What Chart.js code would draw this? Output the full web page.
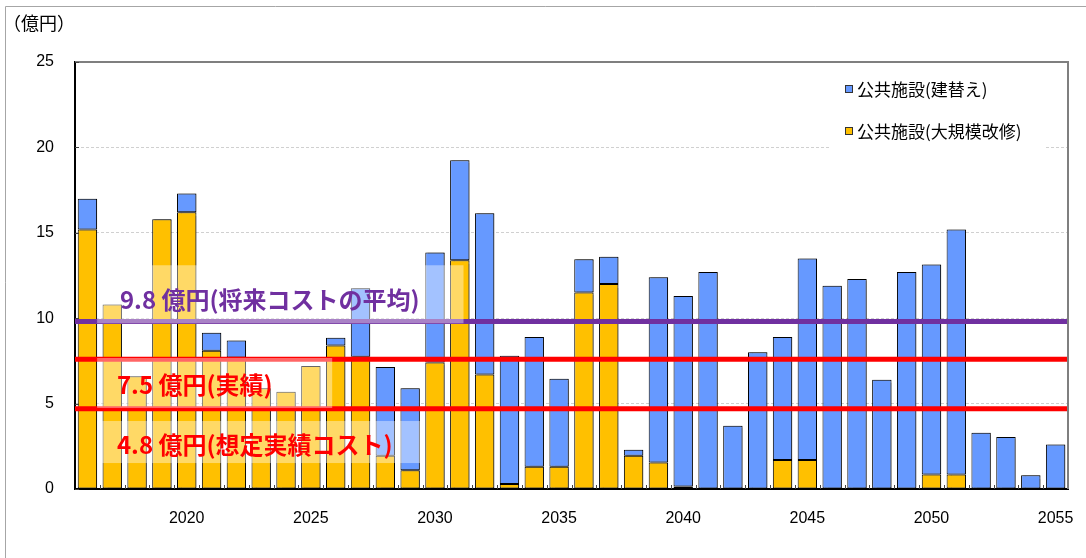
<!DOCTYPE html>
<html>
<head>
<meta charset="utf-8">
<script src="https://cdn.jsdelivr.net/npm/chart.js@4"></script>
<style>
  html, body { margin: 0; padding: 0; background: #fff; }
  #wrap { width: 1086px; height: 558px; }
</style>
</head>
<body>
<div id="wrap"><canvas id="costChart" width="1086" height="558"></canvas></div>
<script>
// years on the x axis
const years = [];
for (let y = 2016; y <= 2055; y++) years.push(y);

// 公共施設（大規模改修） - yellow, bottom of each stack
const renovation = [
  15.2, 10.8, 6.6, 15.8, 16.2, 8.1, 7.7, 5.9, 5.7, 7.2,
  8.4, 7.75, 1.95, 1.1, 7.4, 13.4, 6.7, 0.3, 1.3, 1.3,
  11.5, 12.0, 1.95, 1.55, 0.15, 0, 0, 0, 1.7, 1.7,
  0, 0, 0, 0, 0.85, 0.85, 0, 0, 0, 0
];
// 公共施設（建替え） - blue, top of each stack
const rebuild = [
  1.8, 0, 0, 0, 1.1, 1.05, 1.0, 0, 0, 0,
  0.45, 4.0, 5.2, 4.8, 6.45, 5.85, 9.45, 7.5, 7.6, 5.15,
  1.95, 1.6, 0.35, 10.85, 11.15, 12.7, 3.7, 8.0, 7.2, 11.8,
  11.9, 12.3, 6.4, 12.7, 12.3, 14.35, 3.3, 3.05, 0.8, 2.6
];

const futureAvg = 9.8;     // 将来コストの平均
const actual = 7.6;        // 実績 (line drawn a bit above 7.5)
const assumed = 4.7;       // 想定実績コスト
const yTicks = [0, 5, 10, 15, 20, 25];
const lineSpan = [-0.5, years.length - 0.5];

const notes = [
  { text: '9.8 億円(将来コストの平均)', color: '#7030A0', box: [0.39, 15.15, 9.7, 13.1], at: [1.31, 11.05] },
  { text: '7.5 億円(実績)', color: '#FF0000', box: [0.39, 9.86, 4.74, 7.67], at: [1.19, 6.1] },
  { text: '4.8 億円(想定実績コスト)', color: '#FF0000', box: [0.39, 13.45, 1.52, 3.98], at: [1.19, 2.6] }
];

const BLUE = '#6699FF';
const YELLOW = '#FFC000';
const JP = '"Noto Sans CJK JP", "Noto Sans", sans-serif';
const NUM = '"Liberation Sans", Arial, sans-serif';

const flatLine = (v) => lineSpan.map((x) => ({ x: x, y: v }));

const decor = {
  id: 'decor',
  beforeDraw(chart) {
    const ctx = chart.ctx;
    ctx.save();
    ctx.fillStyle = '#fff';
    ctx.fillRect(0, 0, chart.width, chart.height);
    ctx.strokeStyle = '#A6A6A6';
    ctx.lineWidth = 1;
    ctx.beginPath();
    ctx.moveTo(5.5, chart.height);
    ctx.lineTo(5.5, 6.5);
    ctx.lineTo(chart.width, 6.5);
    ctx.stroke();
    ctx.fillStyle = '#000';
    ctx.font = '18px ' + JP;
    ctx.textBaseline = 'middle';
    ctx.fillText('（億円）', 3, 23);
    ctx.restore();
  },
  beforeDatasetsDraw(chart) {
    // legend box, covers the grid line
    const ctx = chart.ctx;
    ctx.save();
    ctx.fillStyle = '#fff';
    ctx.fillRect(830, 66, 215, 86);
    const items = chart.data.datasets.filter((d) => d.type === 'bar').slice().reverse();
    ctx.font = '17px ' + JP;
    ctx.textBaseline = 'middle';
    items.forEach((d, i) => {
      const cy = 89 + i * 42;
      ctx.fillStyle = d.backgroundColor;
      ctx.fillRect(846, cy - 3, 6, 6);
      ctx.strokeStyle = '#333';
      ctx.lineWidth = 1;
      ctx.strokeRect(845.5, cy - 3.5, 7, 7);
      ctx.fillStyle = '#000';
      ctx.fillText(d.label, 857, cy + 1);
    });
    ctx.restore();
  },
  beforeDatasetDraw(chart, args) {
    if (args.meta.type === 'bar') {
      const ctx = chart.ctx;
      ctx.save();
      ctx.shadowColor = 'rgba(0,0,0,0.35)';
      ctx.shadowOffsetX = 2;
      ctx.shadowOffsetY = 0;
      ctx.shadowBlur = 1;
    }
  },
  afterDatasetDraw(chart, args) {
    if (args.meta.type === 'bar') chart.ctx.restore();
  },
  afterDatasetsDraw(chart) {
    const { ctx, chartArea: a, scales } = chart;
    const x2 = scales.x2, y = scales.y;
    ctx.save();
    // plot frame top / right
    ctx.strokeStyle = '#7F7F7F';
    ctx.lineWidth = 2;
    ctx.beginPath();
    ctx.moveTo(a.left, a.top);
    ctx.lineTo(a.right, a.top);
    ctx.lineTo(a.right, a.bottom);
    ctx.stroke();
    // small inner tick marks
    ctx.strokeStyle = '#404040';
    ctx.lineWidth = 1;
    ctx.beginPath();
    for (let i = 1; i < years.length; i++) {
      const px = Math.round(x2.getPixelForValue(i - 0.5)) + 0.5;
      ctx.moveTo(px, a.bottom);
      ctx.lineTo(px, a.bottom - 4);
    }
    yTicks.forEach((v) => {
      const py = Math.round(y.getPixelForValue(v)) + 0.5;
      ctx.moveTo(a.left, py);
      ctx.lineTo(a.left + 4, py);
    });
    ctx.stroke();
    // annotation boxes and texts
    notes.forEach((n) => {
      const l = x2.getPixelForValue(n.box[0]), r = x2.getPixelForValue(n.box[1]);
      const b = y.getPixelForValue(n.box[2]), t = y.getPixelForValue(n.box[3]);
      ctx.fillStyle = 'rgba(255,255,255,0.4)';
      ctx.fillRect(l, t, r - l, b - t);
    });
    ctx.font = 'bold 24px ' + JP;
    ctx.textBaseline = 'middle';
    notes.forEach((n) => {
      ctx.fillStyle = n.color;
      ctx.fillText(n.text, x2.getPixelForValue(n.at[0]), y.getPixelForValue(n.at[1]));
    });
    ctx.restore();
  }
};

const lineDs = (label, v, color) => ({
  type: 'line',
  label: label,
  data: flatLine(v),
  xAxisID: 'x2',
  stack: label,
  borderColor: color,
  borderWidth: 5,
  borderCapStyle: 'butt',
  pointRadius: 0,
  fill: false,
  order: 0
});

const barDs = (label, data, color) => ({
  type: 'bar',
  label: label,
  data: data,
  stack: 'cost',
  grouped: false,
  backgroundColor: color,
  borderColor: '#000',
  borderWidth: 1,
  borderSkipped: false,
  barPercentage: 0.78,
  categoryPercentage: 1,
  order: 1
});

new Chart(document.getElementById('costChart'), {
  type: 'bar',
  data: {
    labels: years,
    datasets: [
      barDs('公共施設(大規模改修)', renovation, YELLOW),
      barDs('公共施設(建替え)', rebuild, BLUE),
      lineDs('future', futureAvg, '#7030A0'),
      lineDs('actual', actual, '#FF0000'),
      lineDs('assumed', assumed, '#FF0000')
    ]
  },
  options: {
    responsive: false,
    animation: false,
    layout: { padding: { left: 5, top: 62, right: 18, bottom: 0 } },
    plugins: { legend: { display: false }, tooltip: { enabled: false } },
    scales: {
      x: {
        stacked: true,
        grid: { display: false },
        border: { display: true, color: '#000', width: 2 },
        ticks: {
          autoSkip: false,
          maxRotation: 0,
          padding: 12,
          color: '#000',
          font: { family: NUM, size: 16 },
          callback: function (val, i) { return years[i] % 5 === 0 ? String(years[i]) : ''; }
        },
        afterFit: (s) => { s.height = 69; }
      },
      x2: {
        type: 'linear',
        display: false,
        offset: false,
        grid: { offset: false },
        min: lineSpan[0],
        max: lineSpan[1]
      },
      y: {
        stacked: true,
        min: 0,
        max: 25,
        grid: {
          drawTicks: false,
          color: (c) => (c.tick && c.tick.value > 0 && c.tick.value < 25 ? '#D0D0D0' : 'rgba(0,0,0,0)'),
          lineWidth: 1
        },
        border: { display: true, color: '#000', width: 2, dash: [3, 2] },
        ticks: {
          stepSize: 5,
          padding: 21,
          color: '#000',
          font: { family: NUM, size: 16 }
        },
        afterFit: (s) => { s.width = 70; }
      }
    }
  },
  plugins: [decor]
});
</script>
</body>
</html>
